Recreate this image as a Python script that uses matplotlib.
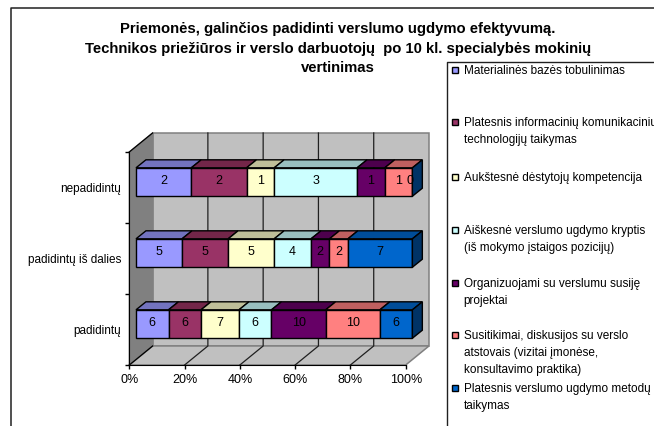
#!/usr/bin/python3
import matplotlib as mpl
mpl.use('Agg')
import matplotlib.pyplot as plt
from matplotlib.patches import Polygon, Rectangle

plt.rcParams['font.family'] = ['Liberation Sans', 'DejaVu Sans']

W, H = 654, 426

categories = ["padidintų", "padidintų iš dalies", "nepadidintų"]
materialines = [6, 5, 2]
informacines = [6, 5, 2]
destytoju = [7, 5, 1]
kryptis = [6, 4, 3]
projektai = [10, 2, 1]
susitikimai = [10, 2, 1]
metodai = [6, 7, 0]
series = [materialines, informacines, destytoju, kryptis, projektai, susitikimai, metodai]

front = ["#9999FF", "#993366", "#FFFFCC", "#CCFFFF", "#660066", "#FF8080", "#0066CC"]
top = ["#7373BF", "#732649", "#BFBF99", "#99BFBF", "#4D004D", "#BF6060", "#004D99"]
side = "#003366"

legend_labels = [
    "Materialinės bazės tobulinimas",
    "Platesnis informacinių komunikacinių\ntechnologijų taikymas",
    "Aukštesnė dėstytojų kompetencija",
    "Aiškesnė verslumo ugdymo kryptis\n(iš mokymo įstaigos pozicijų)",
    "Organizuojami su verslumu susiję\nprojektai",
    "Susitikimai, diskusijos su verslo\natstovais (vizitai įmonėse,\nkonsultavimo praktika)",
    "Platesnis verslumo ugdymo metodų\ntaikymas",
]
legend_y = [70, 122, 177, 230, 283, 335, 388]
title_lines = [
    "Priemonės, galinčios padidinti verslumo ugdymo efektyvumą.",
    "Technikos priežiūros ir verslo darbuotojų  po 10 kl. specialybės mokinių",
    "vertinimas",
]
title_y = [29, 49, 68]
x_ticks = [0, 20, 40, 60, 80, 100]

# oblique depth of the 3d box and of the bars, in data units
DX, DY = 8.43, 0.268
BAR_DX, BAR_DY = 3.6, 0.113
BAR_X0 = 2.42
BAR_H = 0.40
BAR_LIFT = 0.077
FS = 8.5


def poly(ax, pts, fc, ec="black", lw=1.0, z=2):
    ax.add_patch(Polygon(pts, closed=True, facecolor=fc, edgecolor=ec,
                         linewidth=lw, zorder=z, clip_on=False, joinstyle="miter"))


def draw_box(ax):
    poly(ax, [(DX, DY), (100 + DX, DY), (100 + DX, 3 + DY), (DX, 3 + DY)], "#C0C0C0", "#808080", 1.1, 1)
    poly(ax, [(0, 0), (100, 0), (100 + DX, DY), (DX, DY)], "#C0C0C0", "#808080", 1.1, 1)
    poly(ax, [(0, 0), (DX, DY), (DX, 3 + DY), (0, 3)], "#808080", "#808080", 1.0, 1)
    for t in x_ticks[1:-1]:
        ax.plot([t, t + DX, t + DX], [0, DY, 3 + DY], color="#202020", lw=0.9, zorder=1.5, clip_on=False)
    ax.plot([0, DX], [3, 3 + DY], color="black", lw=0.9, zorder=1.5, clip_on=False)
    ax.plot([0, DX], [0, DY], color="black", lw=0.9, zorder=1.5, clip_on=False)


def draw_bars(ax):
    for i in range(len(categories)):
        total = sum(s[i] for s in series)
        y0 = i + 0.5 + BAR_LIFT - BAR_H / 2
        y1 = y0 + BAR_H
        pos = BAR_X0
        for j, s in enumerate(series):
            w = 100.0 * s[i] / total
            x0, x1 = pos, pos + w
            if w > 0:
                poly(ax, [(x0, y1), (x1, y1), (x1 + BAR_DX, y1 + BAR_DY), (x0 + BAR_DX, y1 + BAR_DY)], top[j], z=3)
                poly(ax, [(x0, y0), (x1, y0), (x1, y1), (x0, y1)], front[j], z=4)
            cx = (x0 + x1) / 2 if w > 0 else x1 - 0.7
            ax.text(cx, (y0 + y1) / 2 + 0.015, str(s[i]), ha="center", va="center",
                    fontsize=FS + 0.5, color="black", zorder=6)
            pos = x1
        poly(ax, [(pos, y0), (pos + BAR_DX, y0 + BAR_DY), (pos + BAR_DX, y1 + BAR_DY), (pos, y1)], side, z=5)


def draw_overlay(over):
    over.plot([11, 11, W], [H, 8, 8], color="#202020", lw=1.1)
    over.plot([447, 447, W], [H, 62, 62], color="#202020", lw=1.0)
    for line, y in zip(title_lines, title_y):
        over.text(338, y, line, ha="center", va="center", fontsize=10.7, fontweight="bold")
    for label, y, c in zip(legend_labels, legend_y, front):
        over.add_patch(Rectangle((451.7, y - 3.3), 6.4, 6.4, facecolor=c, edgecolor="black", linewidth=1.0))
        over.text(463.5, y - 5, label, ha="left", va="top", fontsize=FS, linespacing=1.53,
                  clip_on=True)


def main():
    fig = plt.figure(figsize=(W / 100, H / 100), dpi=100, facecolor="white")
    ax = fig.add_axes([129.3 / W, (H - 365) / H, 276.4 / W, 213 / H])
    ax.set_xlim(0, 100)
    ax.set_ylim(0, 3)
    ax.patch.set_visible(False)
    for name, spine in ax.spines.items():
        spine.set_visible(name in ("left", "bottom"))
        spine.set_color("black")
        spine.set_zorder(2)
    draw_box(ax)
    draw_bars(ax)

    ax.set_xticks(x_ticks)
    ax.set_xticklabels([f"{t}%" for t in x_ticks], fontsize=FS + 0.5)
    ax.set_yticks([0, 1, 2, 3])
    ax.set_yticklabels([])
    ax.set_yticks([0.5, 1.5, 2.5], minor=True)
    ax.set_yticklabels(categories, minor=True, fontsize=FS)
    ax.tick_params(axis="y", which="minor", length=0, pad=6)
    ax.tick_params(axis="both", which="major", length=3, width=1.0)

    over = fig.add_axes([0, 0, 1, 1], zorder=5)
    over.set_xlim(0, W)
    over.set_ylim(H, 0)
    over.axis("off")
    draw_overlay(over)

    fig.savefig("out.png", dpi=100)


if __name__ == '__main__':
    main()
